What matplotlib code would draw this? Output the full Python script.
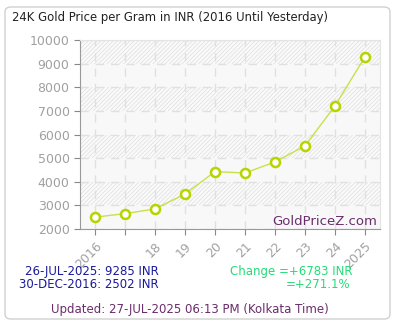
import matplotlib
matplotlib.use("Agg")
import matplotlib.pyplot as plt
from matplotlib.patches import FancyBboxPatch, Rectangle

years = ["2016", "", "18", "19", "20", "21", "22", "23", "24", "2025"]
prices = [2502, 2650, 2850, 3480, 4430, 4370, 4840, 5520, 7210, 9285]
yticks = [2000, 3000, 4000, 5000, 6000, 7000, 8000, 9000, 10000]

plt.rcParams["hatch.linewidth"] = 0.6

W, H = 400, 330
fig = plt.figure(figsize=(W / 100, H / 100), dpi=100)
fig.patch.set_facecolor("white")

# rounded frame
frame = FancyBboxPatch((5 / W, 11 / H), 385 / W, 312 / H,
                       boxstyle="round,pad=0,rounding_size=0.015",
                       transform=fig.transFigure, fill=False,
                       edgecolor="#d0d0d0", linewidth=1.0)
fig.patches.append(frame)

ax = fig.add_axes([80 / W, 1 - 229 / H, 300 / W, 189 / H])
ax.set_facecolor("#f8f8f8")
x = list(range(len(prices)))
ax.set_xlim(-0.5, len(prices) - 0.5)
ax.set_ylim(2000, 10000)

# alternating hatched bands
for i, lo in enumerate(yticks[:-1]):
    if i % 2 == 1:
        ax.add_patch(Rectangle((-0.5, lo), len(prices), 1000, facecolor="#fafafa",
                               hatch="////////", edgecolor="#e2e2e2", linewidth=0, zorder=0))

ax.set_yticks(yticks)
ax.set_xticks(x)
ax.set_xticklabels(years, rotation=45, ha="right", rotation_mode="anchor")
ax.grid(True, color="#e0e0e0", linestyle=(0, (6, 5)), linewidth=1.0, zorder=1)
ax.tick_params(axis="both", colors="#888888", labelcolor="#a0a0a0", labelsize=9, length=4)
for s in ["top", "right"]:
    ax.spines[s].set_color("#e4e4e4")
for s in ["left", "bottom"]:
    ax.spines[s].set_color("#999999")

ax.plot(x, prices, color="#c8e04a", linewidth=1.0, zorder=3)
ax.plot(x, prices, linestyle="none", marker="o", markersize=6.5,
        markerfacecolor="white", markeredgecolor="#b8d400", markeredgewidth=1.8, zorder=4)

ax.text(0.99, 0.005, "GoldPriceZ.com", transform=ax.transAxes, ha="right", va="bottom",
        color="#6b2c6b", fontsize=9.5, zorder=5)

fig.text(12 / W, 1 - 17 / H, "24K Gold Price per Gram in INR (2016 Until Yesterday)",
         ha="left", va="center", fontsize=8.4, color="#222222")

navy = "#1a1a9a"
green = "#22dd77"
fig.text(159 / W, 1 - 272 / H, "26-JUL-2025: 9285 INR", ha="right", va="center",
         fontsize=8.5, color=navy)
fig.text(159 / W, 1 - 285 / H, "30-DEC-2016: 2502 INR", ha="right", va="center",
         fontsize=8.5, color=navy)
fig.text(353 / W, 1 - 272 / H, "Change =+6783 INR", ha="right", va="center",
         fontsize=8.5, color=green)
fig.text(350 / W, 1 - 285 / H, "=+271.1%", ha="right", va="center",
         fontsize=8.5, color=green)
fig.text(190 / W, 1 - 310 / H, "Updated: 27-JUL-2025 06:13 PM (Kolkata Time)", ha="center",
         va="center", fontsize=8.5, color="#6b2c6b")

fig.savefig("out.png", dpi=100)
